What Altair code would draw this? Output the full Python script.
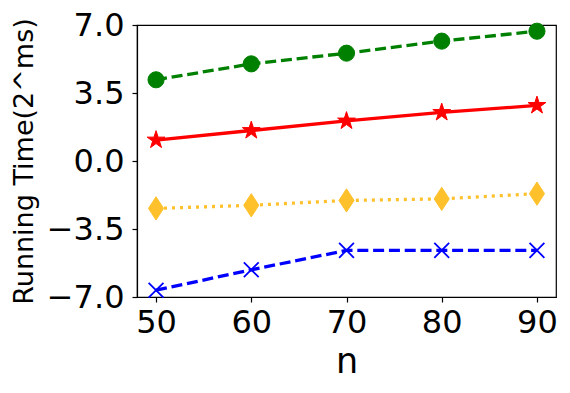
import altair as alt
import pandas as pd

n_values = [50, 60, 70, 80, 90]
green_vals = [4.18, 5.0, 5.55, 6.17, 6.68]
red_vals = [1.08, 1.57, 2.06, 2.5, 2.86]
gold_vals = [-2.44, -2.28, -2.03, -1.95, -1.68]
blue_vals = [-6.65, -5.6, -4.6, -4.6, -4.6]
y_ticks = [-7.0, -3.5, 0.0, 3.5, 7.0]

STAR = ("M0,-1L-0.2245,-0.309L-0.9511,-0.309L-0.3633,0.118L-0.5878,0.809"
        "L0,0.382L0.5878,0.809L0.3633,0.118L0.9511,-0.309L0.2245,-0.309Z")
THIN_DIAMOND = "M0,-1L0.65,0L0,1L-0.65,0Z"
XMARK = "M-1,-1L1,1M-1,1L1,-1"

series = [
    ("green", green_vals, "#008000", [11, 4.8], "circle", 260, True),
    ("red", red_vals, "#ff0000", None, STAR, 350, True),
    ("gold", gold_vals, "#ffc12b", [3, 5], THIN_DIAMOND, 540, True),
    ("blue", blue_vals, "#0000ff", [11, 4.8], XMARK, 220, False),
]

x_scale = alt.Scale(domain=[48, 92], nice=False, zero=False)
y_scale = alt.Scale(domain=[-7, 7], nice=False, zero=False)
x_axis = alt.Axis(values=n_values, title="n", titleFontSize=35, labelFontSize=32,
                  labelPadding=5, titlePadding=6, format="d")
y_axis = alt.Axis(values=y_ticks, title="Running Time(2^ms)", titleFontSize=27,
                  labelFontSize=32, format=".1f", labelPadding=8, titlePadding=8)

layers = []
for name, vals, color, dash, shape, size, filled in series:
    df = pd.DataFrame({"n": n_values, "t": vals})
    base = alt.Chart(df).encode(
        x=alt.X("n:Q", scale=x_scale, axis=x_axis),
        y=alt.Y("t:Q", scale=y_scale, axis=y_axis),
    )
    line_kwargs = dict(color=color, strokeWidth=3.3)
    if dash:
        line_kwargs["strokeDash"] = dash
    layers.append(base.mark_line(**line_kwargs))
    if filled:
        pt = base.mark_point(shape=shape, size=size, filled=True, fill=color,
                             stroke=color, strokeWidth=1, opacity=1)
    else:
        pt = base.mark_point(shape=shape, size=size, filled=False, stroke=color,
                             strokeWidth=1.8, opacity=1)
    layers.append(pt)

chart = alt.layer(*layers).properties(
    width=419, height=272,
    autosize=alt.AutoSizeParams(type="none"),
    padding={"left": 129, "top": 17, "right": 6, "bottom": 86},
).configure_view(stroke="black", strokeWidth=1.2).configure_axis(
    labelFont="DejaVu Sans", titleFont="DejaVu Sans", labelColor="black",
    titleColor="black", titleFontWeight="normal", domainColor="black",
    tickColor="black", tickSize=5, grid=False, domainWidth=1.2, tickWidth=1.2,
)

chart.save("out.html", embed_options={"renderer": "svg", "actions": False})
